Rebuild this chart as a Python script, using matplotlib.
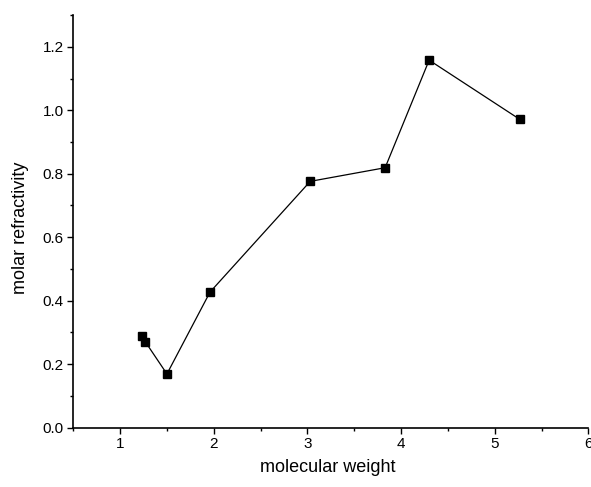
import matplotlib
matplotlib.use("Agg")
import matplotlib.pyplot as plt
from matplotlib.ticker import MultipleLocator

molecular_weight = [1.23, 1.27, 1.50, 1.96, 3.03, 3.83, 4.30, 5.27]
molar_refractivity = [0.288, 0.270, 0.169, 0.427, 0.776, 0.819, 1.158, 0.971]
x_ticks = [1, 2, 3, 4, 5, 6]
x_tick_labels = ['1', '2', '3', '4', '5', '6']
y_ticks = [0.0, 0.2, 0.4, 0.6, 0.8, 1.0, 1.2]
y_tick_labels = ['0.0', '0.2', '0.4', '0.6', '0.8', '1.0', '1.2']

plt.rcParams['font.family'] = ['Liberation Sans', 'DejaVu Sans']

fig = plt.figure(figsize=(5.91, 4.87), dpi=100)
ax = fig.add_axes([0.124, 0.122, 0.8715, 0.847])

ax.plot(molecular_weight, molar_refractivity, color='black', linewidth=0.9,
        marker='s', markersize=5.8, markerfacecolor='black', markeredgecolor='black')

ax.set_xlim(0.5, 6)
ax.set_ylim(0, 1.3)
ax.xaxis.set_minor_locator(MultipleLocator(0.5))
ax.yaxis.set_minor_locator(MultipleLocator(0.1))
ax.set_xticks(x_ticks)
ax.set_xticklabels(x_tick_labels)
ax.set_yticks(y_ticks)
ax.set_yticklabels(y_tick_labels)

for s in ['top', 'right']:
    ax.spines[s].set_visible(False)
for s in ['left', 'bottom']:
    ax.spines[s].set_linewidth(1.2)

ax.tick_params(which='major', direction='out', length=4.5, width=1, labelsize=11, pad=2.5)
ax.tick_params(which='minor', direction='out', length=2.3, width=1)

ax.set_xlabel('molecular weight', fontsize=13)
ax.set_ylabel('molar refractivity', fontsize=13)
ax.xaxis.set_label_coords(0.494, -0.076)
ax.yaxis.set_label_coords(-0.086, 0.484)

fig.savefig('out.png', dpi=100)
